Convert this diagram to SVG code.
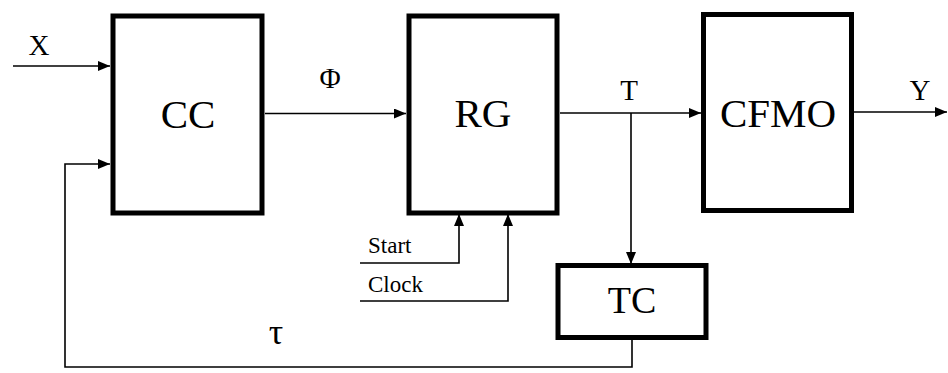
<svg xmlns="http://www.w3.org/2000/svg" width="948" height="373" viewBox="0 0 948 373">
<style>
.box{fill:#fff;stroke:#000;stroke-width:5}
.ln{fill:none;stroke:#000;stroke-width:1.6}
.big{font-family:"Liberation Serif",serif;font-size:41px;text-anchor:middle;fill:#000}
.lab{font-family:"Liberation Serif",serif;font-size:29px;text-anchor:middle;fill:#000}
.sm{font-family:"Liberation Serif",serif;font-size:23px;fill:#000}
</style>
<defs>
<marker id="ah" viewBox="0 0 12 10" refX="12" refY="5" markerWidth="12" markerHeight="10" markerUnits="userSpaceOnUse" orient="auto">
<path d="M0,0 L12,5 L0,10 Z" fill="#000"/>
</marker>
</defs>
<rect width="948" height="373" fill="#fff"/>
<g id="connectors">
<path class="ln" d="M13,66 H110" marker-end="url(#ah)"/>
<path class="ln" d="M265,113.5 H406" marker-end="url(#ah)"/>
<path class="ln" d="M560,113 H701" marker-end="url(#ah)"/>
<path class="ln" d="M631,113 V264" marker-end="url(#ah)"/>
<path class="ln" d="M854,112 H947" marker-end="url(#ah)"/>
<path class="ln" d="M360,263 H459 V214" marker-end="url(#ah)"/>
<path class="ln" d="M360,301 H508 V214" marker-end="url(#ah)"/>
<path class="ln" d="M632,338 V367 H65 V164 H110" marker-end="url(#ah)"/>
</g>
<g id="CC">
<rect class="box" x="113" y="16" width="149" height="197"/>
<text class="big" x="188" y="128">CC</text>
</g>
<g id="RG">
<rect class="box" x="409" y="16" width="148" height="197"/>
<text class="big" x="483" y="127">RG</text>
</g>
<g id="CFMO">
<rect class="box" x="703.5" y="14.5" width="148" height="196"/>
<text class="big" x="778" y="127">CFMO</text>
</g>
<g id="TC">
<rect class="box" x="558" y="265.5" width="148" height="72"/>
<text class="big" x="632" y="313" style="font-size:38px">TC</text>
</g>
<g id="labels">
<text class="lab" x="39" y="55">X</text>
<text class="lab" x="330" y="88">Φ</text>
<text class="lab" x="629" y="100">T</text>
<text class="lab" x="920" y="100">Y</text>
<text class="sm" x="368" y="253">Start</text>
<text class="sm" x="368" y="292">Clock</text>
<text class="lab" x="276" y="344" style="font-size:36px">τ</text>
</g>
</svg>
